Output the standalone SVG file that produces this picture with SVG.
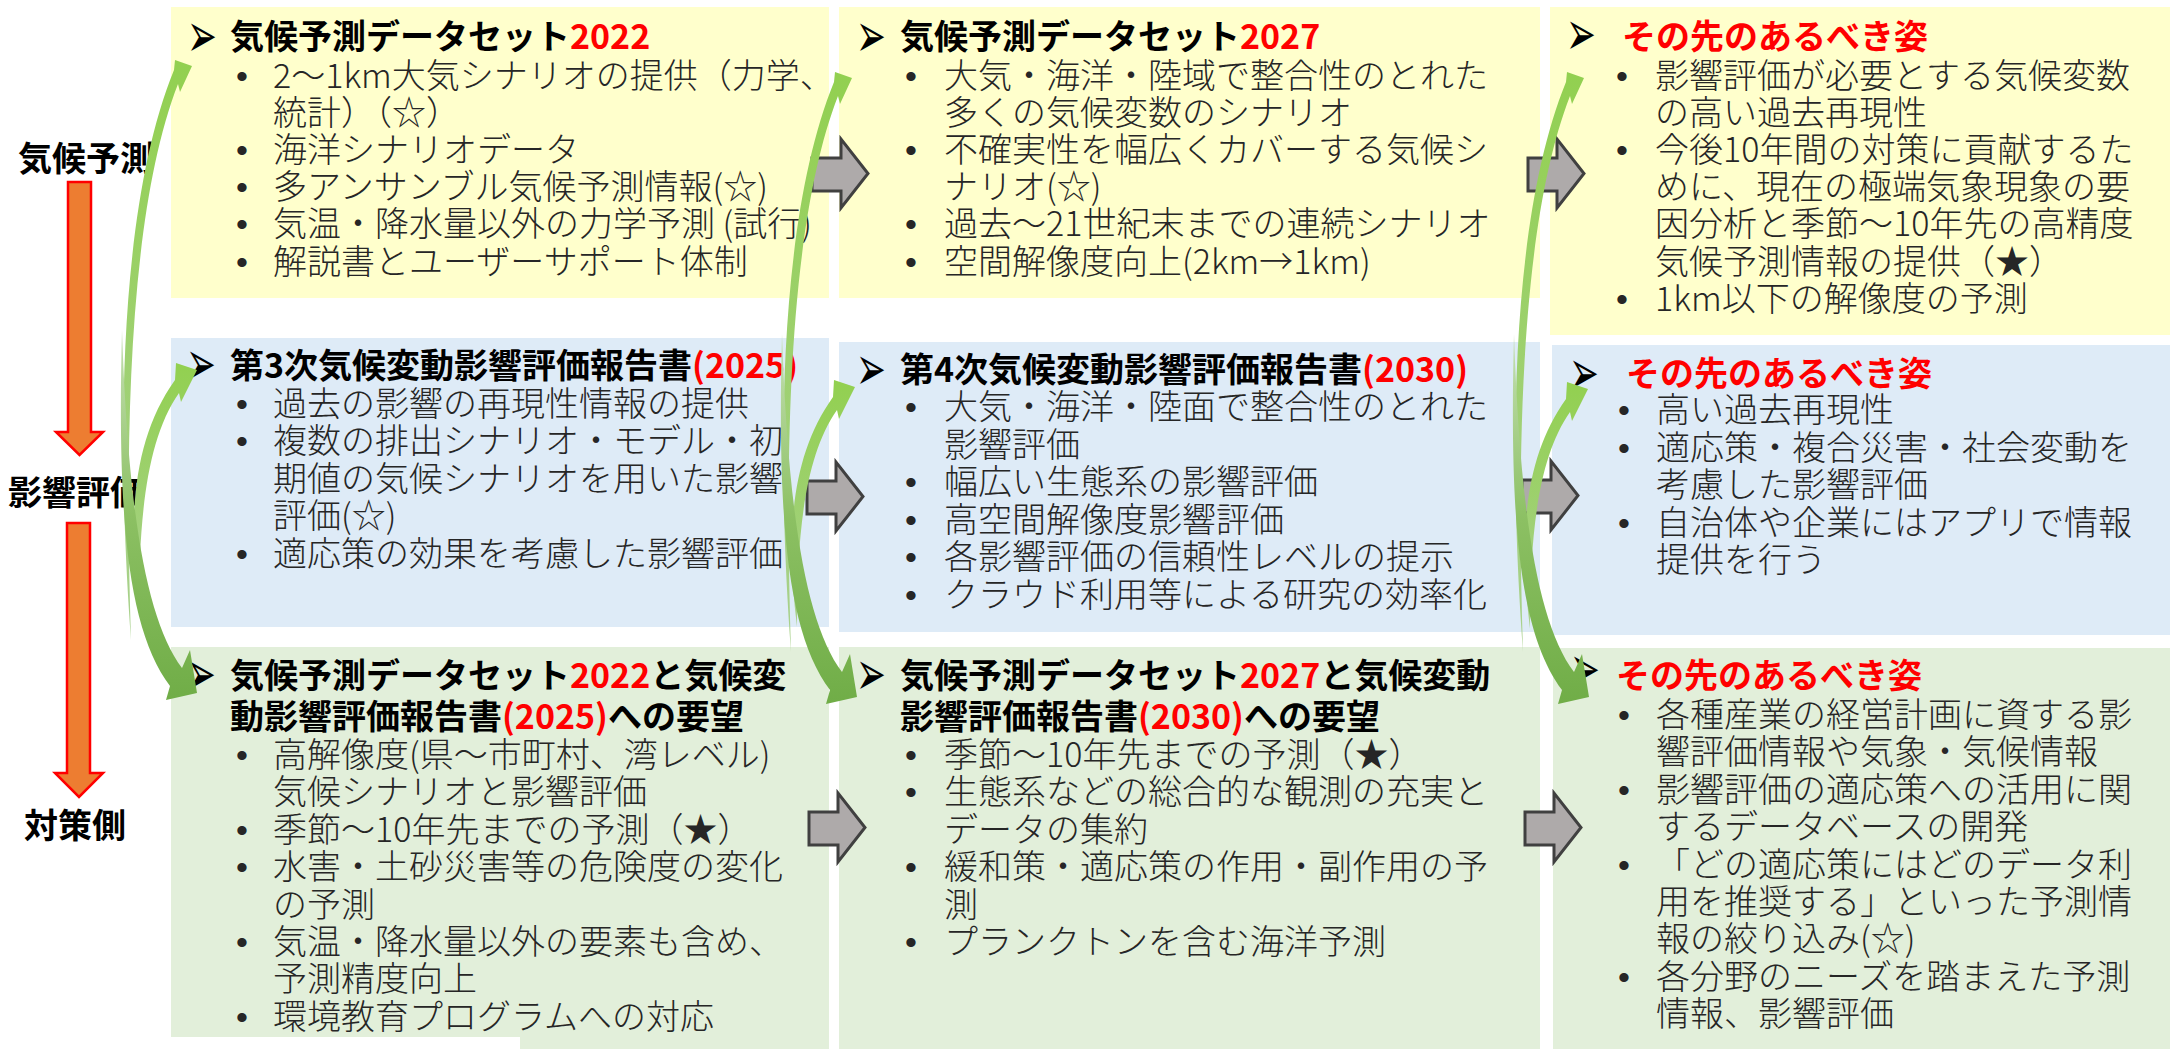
<svg xmlns="http://www.w3.org/2000/svg" width="2170" height="1049" viewBox="0 0 2170 1049">
<style>
.t{font-family:"Noto Sans CJK JP","Noto Sans CJK SC",sans-serif;font-size:34px;font-weight:300;fill:#262626;}
.h{font-weight:700;fill:#000;}
.r{fill:#FF0000;}
.lab{font-family:"Noto Sans CJK JP","Noto Sans CJK SC",sans-serif;font-size:34px;font-weight:700;fill:#000;}
.b{font-family:"Liberation Sans",Arial,sans-serif;font-size:34px;fill:#262626;}
.a{font-family:"DejaVu Sans",sans-serif;font-size:42px;fill:#000;}
.y{fill:#FFFFCC;}
.bl{fill:#DEEBF7;}
.g{fill:#E2EFDA;}
.ga{fill:#AEAAAA;stroke:#404040;stroke-width:3;stroke-linejoin:miter;}
.oa{fill:#ED7D31;stroke:#FF0000;stroke-width:2.5;}
</style>
<defs>
<linearGradient id="gUp" x1="0" y1="1" x2="0" y2="0">
<stop offset="0" stop-color="#A9D18E"/>
<stop offset="1" stop-color="#92D050"/>
</linearGradient>
<linearGradient id="gDn" x1="0" y1="0" x2="0" y2="1">
<stop offset="0" stop-color="#C5E0B4"/>
<stop offset="0.5" stop-color="#8CC063"/>
<stop offset="1" stop-color="#70AD47"/>
</linearGradient>
<path id="cUp1" d="M131,640 C117,450 117,210 174,70 L175,60 L192,66 L180,92 L178,84 C127,215 125,450 131,640 Z" fill="url(#gUp)"/>
<path id="cUp2" d="M139,610 C128,520 132,440 175,380 L176,363 L197,370 L181,402 L179,393 C146,440 139,520 139,610 Z" fill="url(#gUp)"/>
<path id="cDn3" d="M122,330 C117,520 128,630 170,686 L166,700 L197,693 L190,650 L182,668 C146,620 128,510 122,330 Z" fill="url(#gDn)"/>
<path id="gar" class="ga" d="M0,0 L29,0 L29,-19 L56,15.5 L29,50 L29,33 L0,33 Z"/>
</defs>

<g id="labels">
<text class="lab" x="18" y="171">気候予測</text>
<text class="lab" x="8" y="505">影響評価</text>
<text class="lab" x="24" y="838">対策側</text>
</g>

<g id="n-r1c1">
<rect class="y" x="171" y="7" width="658" height="291"/>
<text class="a" transform="translate(187,57) scale(0.85,1.5)">➢</text>
<text class="t h" x="230" y="49">気候予測データセット<tspan class="r">2022</tspan></text>
<text class="b" x="236" y="87.5">•</text><text class="t" x="273" y="87.5">2～1km大気シナリオの提供（力学、</text>
<text class="t" x="273" y="124.7">統計）（☆）</text>
<text class="b" x="236" y="161.9">•</text><text class="t" x="273" y="161.9">海洋シナリオデータ</text>
<text class="b" x="236" y="199.1">•</text><text class="t" x="273" y="199.1">多アンサンブル気候予測情報(☆)</text>
<text class="b" x="236" y="236.3">•</text><text class="t" x="273" y="236.3">気温・降水量以外の力学予測 (試行)</text>
<text class="b" x="236" y="273.5">•</text><text class="t" x="273" y="273.5">解説書とユーザーサポート体制</text>
</g>

<g id="n-r1c2">
<rect class="y" x="839" y="7" width="701" height="291"/>
<text class="a" transform="translate(856,57) scale(0.85,1.5)">➢</text>
<text class="t h" x="900" y="49">気候予測データセット<tspan class="r">2027</tspan></text>
<text class="b" x="905" y="87.5">•</text><text class="t" x="944" y="87.5">大気・海洋・陸域で整合性のとれた</text>
<text class="t" x="944" y="124.7">多くの気候変数のシナリオ</text>
<text class="b" x="905" y="161.9">•</text><text class="t" x="944" y="161.9">不確実性を幅広くカバーする気候シ</text>
<text class="t" x="944" y="199.1">ナリオ(☆)</text>
<text class="b" x="905" y="236.3">•</text><text class="t" x="944" y="236.3">過去～21世紀末までの連続シナリオ</text>
<text class="b" x="905" y="273.5">•</text><text class="t" x="944" y="273.5">空間解像度向上(2km→1km)</text>
</g>

<g id="n-r1c3">
<rect class="y" x="1550" y="7" width="620" height="328"/>
<text class="a" transform="translate(1566,55) scale(0.85,1.5)">➢</text>
<text class="t h r" x="1622" y="49">その先のあるべき姿</text>
<text class="b" x="1616" y="87.5">•</text><text class="t" x="1655" y="87.5">影響評価が必要とする気候変数</text>
<text class="t" x="1655" y="124.7">の高い過去再現性</text>
<text class="b" x="1616" y="161.9">•</text><text class="t" x="1655" y="161.9">今後10年間の対策に貢献するた</text>
<text class="t" x="1655" y="199.1">めに、現在の極端気象現象の要</text>
<text class="t" x="1655" y="236.3">因分析と季節～10年先の高精度</text>
<text class="t" x="1655" y="273.5">気候予測情報の提供（★）</text>
<text class="b" x="1616" y="310.7">•</text><text class="t" x="1655" y="310.7">1km以下の解像度の予測</text>
</g>

<g id="n-r2c1">
<rect class="bl" x="171" y="338" width="658" height="289"/>
<text class="a" transform="translate(186,385) scale(0.85,1.5)">➢</text>
<text class="t h" x="230" y="378">第3次気候変動影響評価報告書<tspan class="r">(2025)</tspan></text>
<text class="b" x="236" y="415.5">•</text><text class="t" x="273" y="415.5">過去の影響の再現性情報の提供</text>
<text class="b" x="236" y="453">•</text><text class="t" x="273" y="453">複数の排出シナリオ・モデル・初</text>
<text class="t" x="273" y="490.5">期値の気候シナリオを用いた影響</text>
<text class="t" x="273" y="528">評価(☆)</text>
<text class="b" x="236" y="565.5">•</text><text class="t" x="273" y="565.5">適応策の効果を考慮した影響評価</text>
</g>

<g id="n-r2c2">
<rect class="bl" x="839" y="342" width="701" height="290"/>
<text class="a" transform="translate(856,390) scale(0.85,1.5)">➢</text>
<text class="t h" x="900" y="382">第4次気候変動影響評価報告書<tspan class="r">(2030)</tspan></text>
<text class="b" x="905" y="419">•</text><text class="t" x="944" y="419">大気・海洋・陸面で整合性のとれた</text>
<text class="t" x="944" y="456.5">影響評価</text>
<text class="b" x="905" y="494">•</text><text class="t" x="944" y="494">幅広い生態系の影響評価</text>
<text class="b" x="905" y="531.5">•</text><text class="t" x="944" y="531.5">高空間解像度影響評価</text>
<text class="b" x="905" y="569">•</text><text class="t" x="944" y="569">各影響評価の信頼性レベルの提示</text>
<text class="b" x="905" y="606.5">•</text><text class="t" x="944" y="606.5">クラウド利用等による研究の効率化</text>
</g>

<g id="n-r2c3">
<rect class="bl" x="1552" y="345" width="618" height="290"/>
<text class="a" transform="translate(1569,394) scale(0.85,1.5)">➢</text>
<text class="t h r" x="1626" y="386">その先のあるべき姿</text>
<text class="b" x="1618" y="422">•</text><text class="t" x="1656" y="422">高い過去再現性</text>
<text class="b" x="1618" y="459.5">•</text><text class="t" x="1656" y="459.5">適応策・複合災害・社会変動を</text>
<text class="t" x="1656" y="497">考慮した影響評価</text>
<text class="b" x="1618" y="534.5">•</text><text class="t" x="1656" y="534.5">自治体や企業にはアプリで情報</text>
<text class="t" x="1656" y="572">提供を行う</text>
</g>

<g id="n-r3c1">
<rect class="g" x="171" y="647" width="658" height="402"/>
<rect x="171" y="1037" width="349" height="12" fill="#FFFFFF"/>
<text class="a" transform="translate(186,695) scale(0.85,1.5)">➢</text>
<text class="t h" x="230" y="688">気候予測データセット<tspan class="r">2022</tspan>と気候変</text>
<text class="t h" x="230" y="729">動影響評価報告書<tspan class="r">(2025)</tspan>への要望</text>
<text class="b" x="236" y="767">•</text><text class="t" x="273" y="767">高解像度(県～市町村、湾レベル)</text>
<text class="t" x="273" y="804.4">気候シナリオと影響評価</text>
<text class="b" x="236" y="841.8">•</text><text class="t" x="273" y="841.8">季節～10年先までの予測（★）</text>
<text class="b" x="236" y="879.2">•</text><text class="t" x="273" y="879.2">水害・土砂災害等の危険度の変化</text>
<text class="t" x="273" y="916.6">の予測</text>
<text class="b" x="236" y="954">•</text><text class="t" x="273" y="954">気温・降水量以外の要素も含め、</text>
<text class="t" x="273" y="991.4">予測精度向上</text>
<text class="b" x="236" y="1028.8">•</text><text class="t" x="273" y="1028.8">環境教育プログラムへの対応</text>
</g>

<g id="n-r3c2">
<rect class="g" x="839" y="647" width="701" height="402"/>
<text class="a" transform="translate(856,695) scale(0.85,1.5)">➢</text>
<text class="t h" x="900" y="688">気候予測データセット<tspan class="r">2027</tspan>と気候変動</text>
<text class="t h" x="900" y="729">影響評価報告書<tspan class="r">(2030)</tspan>への要望</text>
<text class="b" x="905" y="767">•</text><text class="t" x="944" y="767">季節～10年先までの予測（★）</text>
<text class="b" x="905" y="804.4">•</text><text class="t" x="944" y="804.4">生態系などの総合的な観測の充実と</text>
<text class="t" x="944" y="841.8">データの集約</text>
<text class="b" x="905" y="879.2">•</text><text class="t" x="944" y="879.2">緩和策・適応策の作用・副作用の予</text>
<text class="t" x="944" y="916.6">測</text>
<text class="b" x="905" y="954">•</text><text class="t" x="944" y="954">プランクトンを含む海洋予測</text>
</g>

<g id="n-r3c3">
<rect class="g" x="1553" y="648" width="617" height="401"/>
<text class="a" transform="translate(1570,690) scale(0.85,1.5)">➢</text>
<text class="t h r" x="1616" y="688">その先のあるべき姿</text>
<text class="b" x="1618" y="727">•</text><text class="t" x="1656" y="727">各種産業の経営計画に資する影</text>
<text class="t" x="1656" y="764.4">響評価情報や気象・気候情報</text>
<text class="b" x="1618" y="801.8">•</text><text class="t" x="1656" y="801.8">影響評価の適応策への活用に関</text>
<text class="t" x="1656" y="839.2">するデータベースの開発</text>
<text class="b" x="1618" y="876.6">•</text><text class="t" x="1656" y="876.6">「どの適応策にはどのデータ利</text>
<text class="t" x="1656" y="914">用を推奨する」といった予測情</text>
<text class="t" x="1656" y="951.4">報の絞り込み(☆)</text>
<text class="b" x="1618" y="988.8">•</text><text class="t" x="1656" y="988.8">各分野のニーズを踏まえた予測</text>
<text class="t" x="1656" y="1026.2">情報、影響評価</text>
</g>

<g id="connectors">
<path class="oa" d="M68,182 L91,182 L91,432 L103,432 L79.5,455 L56,432 L68,432 Z"/>
<path class="oa" d="M67,523 L90,523 L90,773 L103,773 L79,797 L55,773 L67,773 Z"/>
<use href="#gar" x="812" y="158"/>
<use href="#gar" x="1528" y="158"/>
<use href="#gar" x="807" y="481"/>
<use href="#gar" x="1522" y="480"/>
<use href="#gar" x="809" y="812"/>
<use href="#gar" x="1525" y="812"/>
<use href="#cUp1"/>
<use href="#cUp2"/>
<use href="#cDn3"/>
<use href="#cUp1" transform="translate(660,12)"/>
<use href="#cUp2" transform="translate(658,17)"/>
<use href="#cDn3" transform="translate(660,4)"/>
<use href="#cUp1" transform="translate(1392,12)"/>
<use href="#cUp2" transform="translate(1391,19)"/>
<use href="#cDn3" transform="translate(1392,4)"/>
</g>
</svg>
